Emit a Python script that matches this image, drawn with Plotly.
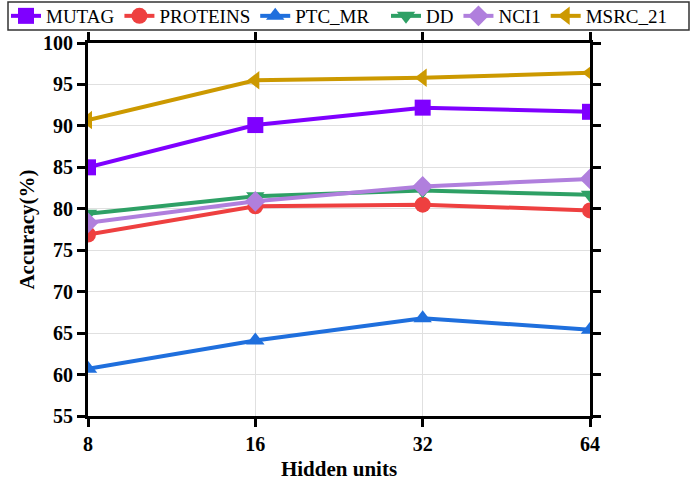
import plotly.graph_objects as go

hidden_units = ["8", "16", "32", "64"]
mutag = [85.0, 90.1, 92.2, 91.7]
proteins = [76.9, 80.3, 80.5, 79.8]
ptc_mr = [60.7, 64.1, 66.8, 65.4]
dd = [79.4, 81.5, 82.2, 81.7]
nci1 = [78.3, 80.9, 82.7, 83.6]
msrc_21 = [90.7, 95.5, 95.8, 96.4]
y_ticks = [55, 60, 65, 70, 75, 80, 85, 90, 95, 100]

series = [
    ("MUTAG", mutag, "#7F00FF", "square", "legend"),
    ("PROTEINS", proteins, "#EE4040", "circle", "legend"),
    ("PTC_MR", ptc_mr, "#1F6FDD", "triangle-up", "legend"),
    ("DD", dd, "#2EA065", "triangle-down", "legend2"),
    ("NCI1", nci1, "#B07FDD", "diamond", "legend2"),
    ("MSRC_21", msrc_21, "#CC9900", "triangle-left", "legend2"),
]

fig = go.Figure()
for name, vals, color, sym, leg in series:
    fig.add_trace(go.Scatter(
        x=hidden_units, y=vals, name=name, mode="lines+markers",
        line=dict(color=color, width=4),
        marker=dict(symbol=sym, size=16, color=color),
        legend=leg,
    ))

font = "Liberation Serif, serif"
leg_common = dict(
    orientation="h", xref="container", yref="container",
    xanchor="left", y=1 - 16 / 481, yanchor="middle",
    borderwidth=0, bgcolor="rgba(0,0,0,0)",
    font=dict(family=font, size=19, color="black"),
    tracegroupgap=0,
)
fig.update_layout(
    width=691, height=481,
    margin=dict(l=88, r=101, t=43, b=65, autoexpand=False),
    plot_bgcolor="white", paper_bgcolor="white",
    font=dict(family=font, color="black"),
    showlegend=True,
    legend=dict(x=6 / 691, **leg_common),
    legend2=dict(x=386 / 691, **leg_common),
    shapes=[dict(
        type="rect", xref="paper", yref="paper",
        x0=(8 - 88) / 502, x1=(689 - 88) / 502,
        y0=(416 - 30) / 373, y1=(416 - 2) / 373,
        line=dict(color="#333333", width=1.5), layer="below",
    )],
    xaxis=dict(
        type="category", range=[0, 3], automargin=False,
        showline=True, linecolor="black", linewidth=3, mirror="ticks",
        ticks="outside", ticklen=8, tickwidth=3, tickcolor="black",
        showgrid=True, gridcolor="#E0E0E0", gridwidth=1,
        tickfont=dict(family=font, size=20, color="black", weight="bold"),
        title=dict(text="<b>Hidden units</b>", font=dict(family=font, size=21), standoff=22),
        zeroline=False,
    ),
    yaxis=dict(
        range=[55, 100], tickvals=y_ticks, automargin=False,
        showline=True, linecolor="black", linewidth=3, mirror="ticks",
        ticks="outside", ticklen=8, tickwidth=3, tickcolor="black",
        showgrid=True, gridcolor="#E0E0E0", gridwidth=1,
        tickfont=dict(family=font, size=20, color="black", weight="bold"),
        title=dict(text="<b>Accuracy(%)</b>", font=dict(family=font, size=21), standoff=3),
        zeroline=False,
    ),
)
fig.write_html("out.html", config={"displayModeBar": False},
               post_script="document.body.style.margin='0';")
